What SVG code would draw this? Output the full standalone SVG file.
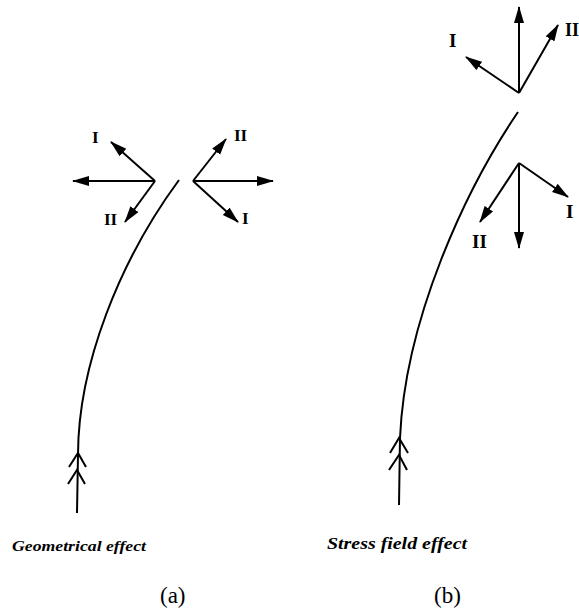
<svg xmlns="http://www.w3.org/2000/svg" width="579" height="609" viewBox="0 0 579 609">
<defs>
<marker id="ah" markerWidth="17" markerHeight="11" refX="16" refY="5" orient="auto" markerUnits="userSpaceOnUse">
<path d="M0,0 L17,5 L0,10 z" fill="#000"/>
</marker>
<style>
.crack{fill:none;stroke:#000;stroke-width:2}
.arr{fill:none;stroke:#000;stroke-width:2;marker-end:url(#ah)}
.chev{fill:none;stroke:#000;stroke-width:2}
.lab{font-weight:bold;fill:#000}
.cap{font-weight:bold;font-style:italic;fill:#000}
.sub{fill:#000}
</style>
</defs>
<rect width="579" height="609" fill="#fff"/>
<g id="connectors">
<path class="crack" d="M77,513 L78,455 C78,365 120,260 179,180"/>
<path class="chev" d="M69,467 L78,453 L86,467 M68,484 L77,470 L85,484"/>
<path class="crack" d="M399,505 L400,438 C405,320 465,190 518,112"/>
<path class="chev" d="M390,453 L399,438 L408,453 M389,470 L399,455 L407,470"/>
<line class="arr" x1="155" y1="181" x2="73" y2="181"/>
<line class="arr" x1="155" y1="181" x2="111" y2="142"/>
<line class="arr" x1="155" y1="181" x2="125" y2="222"/>
<line class="arr" x1="193" y1="181" x2="273" y2="181"/>
<line class="arr" x1="193" y1="181" x2="226" y2="139"/>
<line class="arr" x1="193" y1="181" x2="238" y2="222"/>
<line class="arr" x1="519" y1="93" x2="519" y2="7"/>
<line class="arr" x1="519" y1="93" x2="466" y2="57"/>
<line class="arr" x1="519" y1="93" x2="558" y2="25"/>
<line class="arr" x1="519" y1="163" x2="519" y2="248"/>
<line class="arr" x1="519" y1="163" x2="480" y2="222"/>
<line class="arr" x1="519" y1="163" x2="568" y2="197"/>
</g>
<g id="labels-a" font-family="'Liberation Serif', 'Times New Roman', serif">
<text class="lab" x="92" y="143" font-size="17">I</text>
<text class="lab" x="104" y="225" font-size="17">II</text>
<text class="lab" x="234" y="141" font-size="17">II</text>
<text class="lab" x="242" y="224" font-size="17">I</text>
</g>
<g id="labels-b" font-family="'Liberation Serif', 'Times New Roman', serif">
<text class="lab" x="449" y="47" font-size="19">I</text>
<text class="lab" x="565" y="36" font-size="18">II</text>
<text class="lab" x="566" y="218" font-size="19">I</text>
<text class="lab" x="472" y="248" font-size="19">II</text>
</g>
<g id="captions" font-family="'Liberation Serif', 'Times New Roman', serif">
<text class="cap" x="12" y="551" font-size="15" textLength="134" lengthAdjust="spacingAndGlyphs">Geometrical effect</text>
<text class="cap" x="327" y="549" font-size="17" textLength="140" lengthAdjust="spacingAndGlyphs">Stress field effect</text>
<text class="sub" x="160" y="603" font-size="23">(a)</text>
<text class="sub" x="434" y="603" font-size="23">(b)</text>
</g>
</svg>
